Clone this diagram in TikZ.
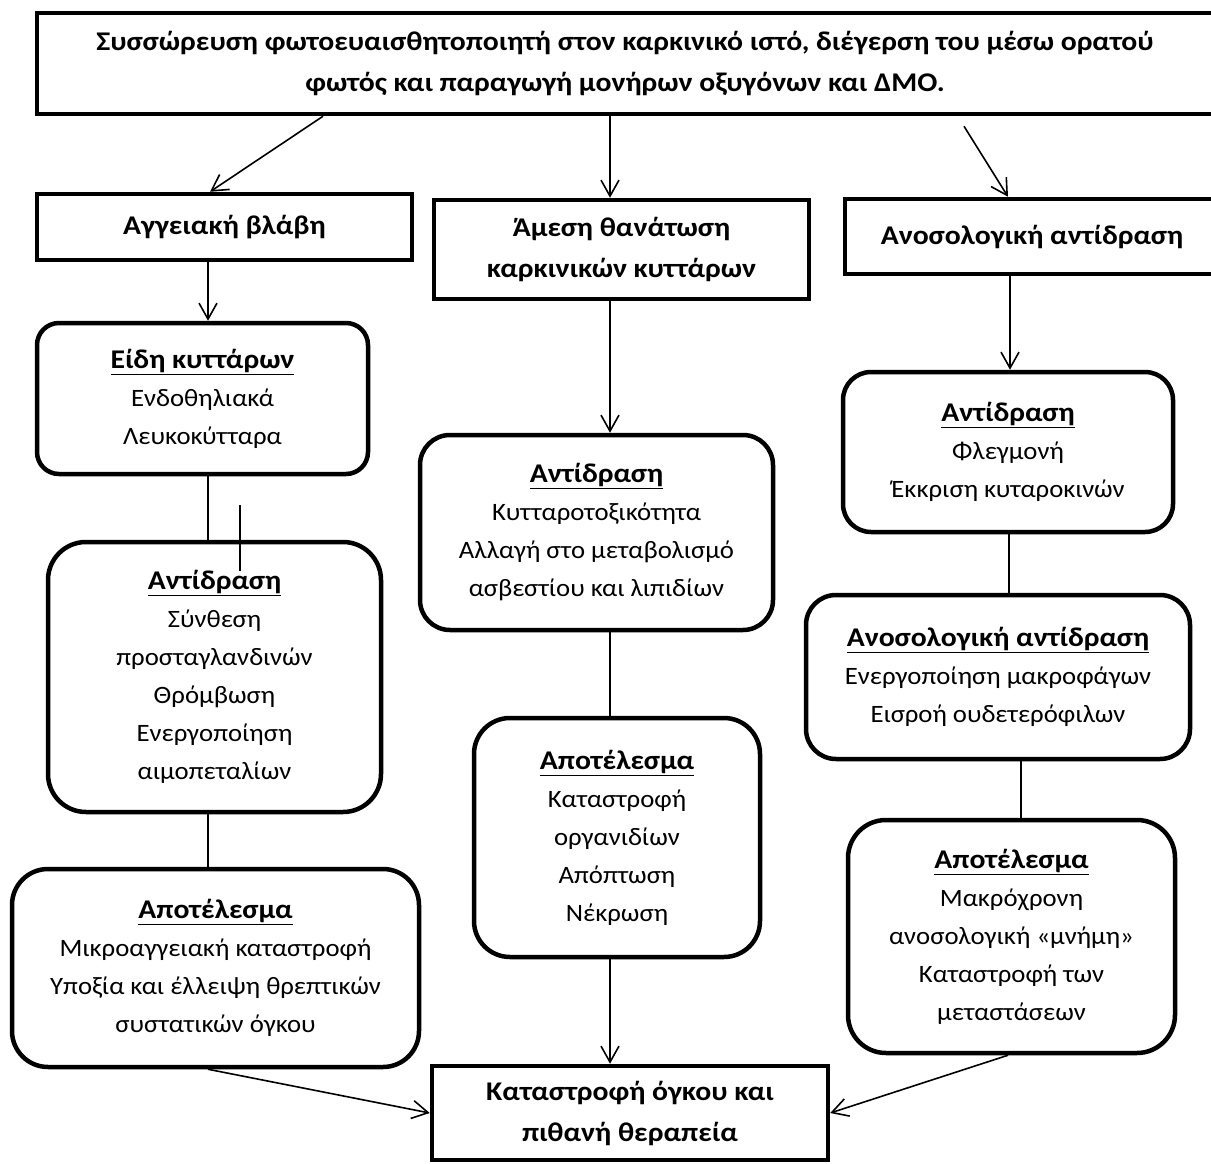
\documentclass[tikz,border=0pt]{standalone}
\usepackage{fontspec}
\setmainfont{Carlito}[FakeStretch=1.07,BoldFeatures={FakeStretch=1.1}]
\usetikzlibrary{arrows.meta}
\newcommand{\boxtitle}[1]{{\fontsize{27}{38}\selectfont\bfseries\underline{#1}}}

\begin{document}
\begin{tikzpicture}[x=1pt,y=-1pt,
    block/.style={rectangle,draw,line width=4.5pt,align=center,inner sep=0pt,font=\fontsize{27}{41}\selectfont\bfseries},
    rblock/.style={rectangle,rounded corners=30pt,draw,line width=4.5pt,align=center,inner sep=0pt,font=\fontsize{25}{38}\selectfont},
    arrow/.style={-{Straight Barb[length=16pt,width=18pt]},line width=1.6pt},
    link/.style={line width=1.6pt}]
    \useasboundingbox (0,0) rectangle (1211,1164);
    % top and second row
    \node[block,minimum width=1176pt,minimum height=101pt] (top) at (625,63.5)
        {Συσσώρευση φωτοευαισθητοποιητή στον καρκινικό ιστό, διέγερση του μέσω ορατού\\φωτός και παραγωγή μονήρων οξυγόνων και ΔΜΟ.};
    \node[block,minimum width=375pt,minimum height=66pt] (vasc) at (224.5,227) {Αγγειακή βλάβη};
    \node[block,minimum width=375pt,minimum height=99pt] (kill) at (621.5,249.5) {Άμεση θανάτωση\\καρκινικών κυττάρων};
    \node[block,minimum width=374pt,minimum height=75pt] (immune) at (1032,236.5) {Ανοσολογική αντίδραση};
    % left column
    \node[rblock,rounded corners=22pt,minimum width=331pt,minimum height=151pt] (cells) at (202.5,398.5)
        {\boxtitle{Είδη κυττάρων}\\Ενδοθηλιακά\\Λευκοκύτταρα};
    \node[rblock,rounded corners=38pt,minimum width=333pt,minimum height=270pt] (vreact) at (214.5,677)
        {\boxtitle{Αντίδραση}\\Σύνθεση\\προσταγλανδινών\\Θρόμβωση\\Ενεργοποίηση\\αιμοπεταλίων};
    \node[rblock,rounded corners=36pt,minimum width=407pt,minimum height=198pt] (vres) at (215.5,968)
        {\boxtitle{Αποτέλεσμα}\\Μικροαγγειακή καταστροφή\\Υποξία και έλλειψη θρεπτικών\\συστατικών όγκου};
    % middle column
    \node[rblock,minimum width=353pt,minimum height=195pt] (kreact) at (596.5,532.5)
        {\boxtitle{Αντίδραση}\\Κυτταροτοξικότητα\\Αλλαγή στο μεταβολισμό\\ασβεστίου και λιπιδίων};
    \node[rblock,rounded corners=36pt,minimum width=286pt,minimum height=239pt] (kres) at (617,837.5)
        {\boxtitle{Αποτέλεσμα}\\Καταστροφή\\οργανιδίων\\Απόπτωση\\Νέκρωση};
    % right column
    \node[rblock,rounded corners=28pt,minimum width=330pt,minimum height=160pt] (ireact) at (1008,452)
        {\boxtitle{Αντίδραση}\\Φλεγμονή\\Έκκριση κυταροκινών};
    \node[rblock,minimum width=384pt,minimum height=164pt] (iresp) at (998,677)
        {\boxtitle{Ανοσολογική αντίδραση}\\Ενεργοποίηση μακροφάγων\\Εισροή ουδετερόφιλων};
    \node[rblock,rounded corners=38pt,minimum width=327pt,minimum height=233pt] (ires) at (1011.5,936.5)
        {\boxtitle{Αποτέλεσμα}\\Μακρόχρονη\\ανοσολογική «μνήμη»\\Καταστροφή των\\μεταστάσεων};
    % bottom
    \node[block,minimum width=396pt,minimum height=94pt] (final) at (630,1113) {Καταστροφή όγκου και\\πιθανή θεραπεία};

    \draw[arrow] ([xshift=-302pt]top.south) -- ([xshift=-14.5pt]vasc.north);
    \draw[arrow] ([xshift=-15pt]top.south) -- ([xshift=-11.5pt]kill.north);
    \draw[arrow] ([xshift=339pt,yshift=-10pt]top.south) -- ([xshift=-24pt]immune.north);
    \draw[arrow] ([xshift=-16.5pt]vasc.south) -- ([xshift=5.5pt]cells.north);
    \draw[arrow] ([xshift=-11.5pt]kill.south) -- ([xshift=13.5pt]kreact.north);
    \draw[arrow] ([xshift=-22pt]immune.south) -- ([xshift=2pt]ireact.north);
    \draw[link] ([xshift=5.5pt]cells.south) -- ([xshift=-6.5pt]vreact.north);
    \draw[link] ([xshift=25.5pt,yshift=35pt]vreact.north) -- ([xshift=25.5pt,yshift=-31pt]vreact.north);
    \draw[link] ([xshift=-6.5pt]vreact.south) -- ([xshift=-7.5pt]vres.north);
    \draw[link] ([xshift=13.5pt]kreact.south) -- ([xshift=-7pt]kres.north);
    \draw[link] ([xshift=1pt]ireact.south) -- ([xshift=11pt]iresp.north);
    \draw[link] ([xshift=23pt]iresp.south) -- ([xshift=9.5pt]ires.north);
    \draw[arrow] ([xshift=-7.5pt]vres.south) -- (final.west);
    \draw[arrow] ([xshift=-7pt]kres.south) -- ([xshift=-20pt]final.north);
    \draw[arrow] ([xshift=-3.5pt]ires.south) -- (final.east);
\end{tikzpicture}
\end{document}
